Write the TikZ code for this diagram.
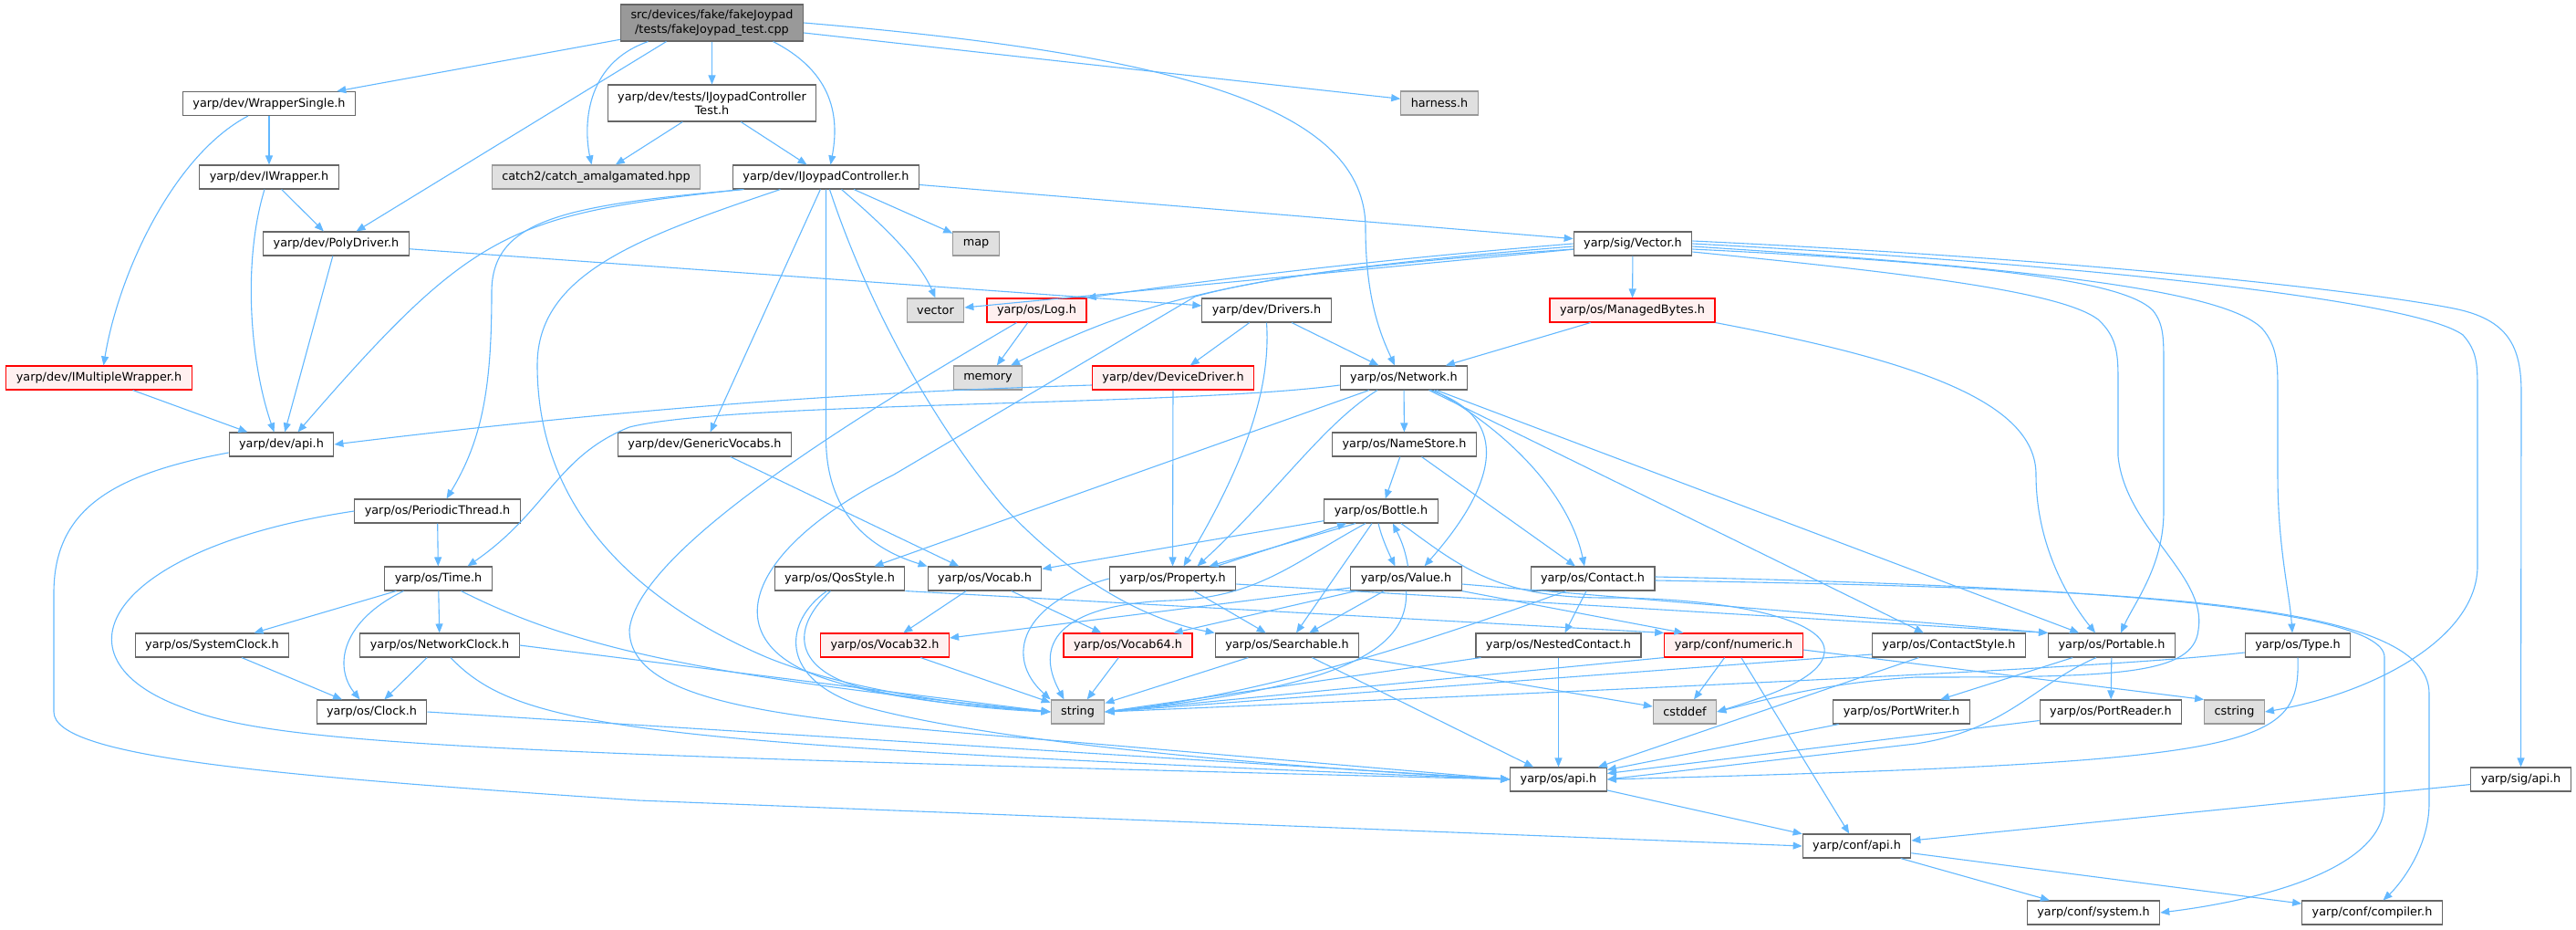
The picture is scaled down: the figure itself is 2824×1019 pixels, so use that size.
\documentclass[tikz,border=0pt]{standalone}
\usepackage{fontspec}
\setmainfont{DejaVu Sans}
\usetikzlibrary{arrows.meta}
\definecolor{edgeblue}{HTML}{63B8FF}
\definecolor{boxgray}{HTML}{666666}
\definecolor{sysfill}{HTML}{E0E0E0}
\definecolor{sysdraw}{HTML}{999999}
\definecolor{redfill}{HTML}{FFF0F0}
\definecolor{rootfill}{HTML}{999999}

\begin{document}
\begin{tikzpicture}[x=1pt, y=-1pt, box/.style={rectangle, draw=boxgray, fill=white, line width=1.1pt, minimum height=26pt, inner xsep=11pt, inner ysep=2pt, align=center, font=\fontsize{12.8pt}{15.5pt}\selectfont}, sysbox/.style={box, draw=sysdraw, fill=sysfill}, redbox/.style={box, draw=red, fill=redfill}, rootbox/.style={box, fill=rootfill, minimum height=40pt}, arrow/.style={-{Triangle[length=10pt,width=8pt]}, draw=edgeblue, line width=1.1pt}]
        \useasboundingbox (0,0) rectangle (2824,1019);
        \node[rootbox] (root) at (780.5,25) {src/devices/fake/fakeJoypad\\/tests/fakeJoypad\_test.cpp};
        \node[box] (wsingle) at (295,113.5) {yarp/dev/WrapperSingle.h};
        \node[box, minimum height=40pt] (ijctest) at (780.5,113) {yarp/dev/tests/IJoypadController\\Test.h};
        \node[sysbox] (harness) at (1578,113) {harness.h};
        \node[sysbox] (catch) at (653.5,194) {catch2/catch\_amalgamated.hpp};
        \node[box] (iwrapper) at (295,194) {yarp/dev/IWrapper.h};
        \node[box] (ijc) at (905.5,194) {yarp/dev/IJoypadController.h};
        \node[box] (polydrv) at (368.5,267) {yarp/dev/PolyDriver.h};
        \node[sysbox] (map) at (1070,267) {map};
        \node[box] (vecsig) at (1790,267) {yarp/sig/Vector.h};
        \node[sysbox] (vectorstd) at (1025.5,340) {vector};
        \node[redbox] (log) at (1136.5,340) {yarp/os/Log.h};
        \node[box] (drivers) at (1388.5,340) {yarp/dev/Drivers.h};
        \node[redbox] (managed) at (1789.5,340) {yarp/os/ManagedBytes.h};
        \node[redbox] (imulti) at (108.5,414) {yarp/dev/IMultipleWrapper.h};
        \node[sysbox] (memory) at (1083,414) {memory};
        \node[redbox] (devdrv) at (1286,414) {yarp/dev/DeviceDriver.h};
        \node[box] (network) at (1539,414) {yarp/os/Network.h};
        \node[box] (devapi) at (308.5,487) {yarp/dev/api.h};
        \node[box] (genvoc) at (772.5,487) {yarp/dev/GenericVocabs.h};
        \node[box] (namestore) at (1539.5,487) {yarp/os/NameStore.h};
        \node[box] (periodic) at (479.5,560) {yarp/os/PeriodicThread.h};
        \node[box] (bottle) at (1514,560) {yarp/os/Bottle.h};
        \node[box] (time) at (480.5,634) {yarp/os/Time.h};
        \node[box] (qos) at (920.5,634) {yarp/os/QosStyle.h};
        \node[box] (vocab) at (1079.5,634) {yarp/os/Vocab.h};
        \node[box] (property) at (1285.5,634) {yarp/os/Property.h};
        \node[box] (value) at (1541.5,634) {yarp/os/Value.h};
        \node[box] (contact) at (1746,634) {yarp/os/Contact.h};
        \node[box] (sysclock) at (232.5,707) {yarp/os/SystemClock.h};
        \node[box] (netclock) at (482,707) {yarp/os/NetworkClock.h};
        \node[redbox] (vocab32) at (970,707) {yarp/os/Vocab32.h};
        \node[redbox] (vocab64) at (1236.5,707) {yarp/os/Vocab64.h};
        \node[box] (searchable) at (1411,707) {yarp/os/Searchable.h};
        \node[box] (nested) at (1708.5,707) {yarp/os/NestedContact.h};
        \node[redbox] (numeric) at (1900.5,707) {yarp/conf/numeric.h};
        \node[box] (cstyle) at (2136.5,707) {yarp/os/ContactStyle.h};
        \node[box] (portable) at (2315,707) {yarp/os/Portable.h};
        \node[box] (type) at (2519,707) {yarp/os/Type.h};
        \node[box] (clock) at (407.5,780) {yarp/os/Clock.h};
        \node[sysbox] (string) at (1181.5,780) {string};
        \node[sysbox] (cstddef) at (1847,780) {cstddef};
        \node[box] (portwriter) at (2084.5,780) {yarp/os/PortWriter.h};
        \node[box] (portreader) at (2314,780) {yarp/os/PortReader.h};
        \node[sysbox] (cstring) at (2449.5,780) {cstring};
        \node[box] (osapi) at (1708.5,854) {yarp/os/api.h};
        \node[box] (sigapi) at (2763.5,854) {yarp/sig/api.h};
        \node[box] (confapi) at (2035.5,927) {yarp/conf/api.h};
        \node[box] (sysh) at (2295,1000) {yarp/conf/system.h};
        \node[box] (compiler) at (2600.5,1000) {yarp/conf/compiler.h};
        \draw[arrow] (root) -- (wsingle);
        \draw[arrow] ([xshift=-50pt]root.south) -- ([xshift=22pt]polydrv.north);
        \draw[arrow] ([xshift=-70pt]root.south) .. controls (640,70) and (640,140) .. ([xshift=-5pt]catch.north);
        \draw[arrow] (root) -- (ijctest);
        \draw[arrow] ([xshift=67pt]root.south) .. controls (915,80) and (920,130) .. ([xshift=5pt]ijc.north);
        \draw[arrow] (root) -- (harness);
        \draw[arrow] (root.east) .. controls (1300,60) and (1497,120) .. (1497,250) .. controls (1497,330) and (1515,370) .. ([xshift=-10pt]network.north);
        \draw[arrow] (wsingle) -- (iwrapper);
        \draw[arrow] ([xshift=-23pt]wsingle.south) .. controls (190,170) and (130,300) .. ([xshift=5pt]imulti.north);
        \draw[arrow] (ijctest) -- (catch);
        \draw[arrow] (ijctest) -- (ijc);
        \draw[arrow] (iwrapper) -- (polydrv);
        \draw[arrow] ([xshift=-5pt]iwrapper.south) .. controls (265,290) and (275,400) .. ([xshift=-8pt]devapi.north);
        \draw[arrow] (polydrv) -- (devapi);
        \draw[arrow] (polydrv) -- (drivers);
        \draw[arrow] (imulti) -- (devapi);
        \draw[arrow] ([yshift=-9pt]devapi.west) .. controls (120,520) and (59,560) .. (59,650) -- (59,780) .. controls (59,830) and (300,850) .. (700,877) -- (confapi.west);
        \draw[arrow] (ijc) -- (map);
        \draw[arrow] ([xshift=17pt]ijc.south) .. controls (960,240) and (1005,280) .. (vectorstd.north);
        \draw[arrow] (ijc) -- (vecsig);
        \draw[arrow] ([xshift=-92pt]ijc.south) .. controls (560,235) and (520,250) .. ([xshift=18pt]devapi.north);
        \draw[arrow] ([xshift=-90pt]ijc.south) .. controls (620,225) and (539,240) .. (539,320) .. controls (539,420) and (530,480) .. ([xshift=10pt]periodic.north);
        \draw[arrow] (ijc) -- (genvoc);
        \draw[arrow] (ijc.south) -- (905.5,480) .. controls (905.5,560) and (950,600) .. (vocab.north west);
        \draw[arrow] ([xshift=4pt]ijc.south) .. controls (950,330) and (1020,460) .. (1100,555) .. controls (1180,640) and (1260,680) .. (searchable.north west);
        \draw[arrow] ([xshift=-50pt]ijc.south) .. controls (700,260) and (589,300) .. (589,400) .. controls (589,560) and (700,660) .. (840,720) .. controls (950,765) and (1100,775) .. (string.west);
        \draw[arrow] (genvoc) -- (vocab);
        \draw[arrow] (drivers) -- (devdrv);
        \draw[arrow] (drivers) -- (network);
        \draw[arrow] (drivers.south) .. controls (1393,420) and (1370,500) .. ([xshift=12pt]property.north);
        \draw[arrow] (devdrv) -- (property);
        \draw[arrow] ([yshift=-8pt]devdrv.west) .. controls (1000,428) and (750,440) .. (devapi.east);
        \draw[arrow] ([yshift=-8pt]network.west) .. controls (1300,445) and (800,440) .. (690,468) .. controls (610,500) and (600,560) .. ([xshift=32pt]time.north);
        \draw[arrow] (network) -- (namestore);
        \draw[arrow] (network) -- (qos);
        \draw[arrow] ([xshift=-29pt]network.south) .. controls (1450,465) and (1400,540) .. ([xshift=27pt]property.north);
        \draw[arrow] ([xshift=29pt]network.south) .. controls (1650,455) and (1650,520) .. ([xshift=20pt]value.north);
        \draw[arrow] ([xshift=33pt]network.south) .. controls (1650,470) and (1720,540) .. ([xshift=-9pt]contact.north);
        \draw[arrow] (network) -- (cstyle);
        \draw[arrow] (network) -- (portable);
        \draw[arrow] (namestore) -- (bottle);
        \draw[arrow] (namestore) -- (contact);
        \draw[arrow] (managed) -- (network);
        \draw[arrow] (managed.south east) .. controls (2100,395) and (2232,440) .. (2232,520) .. controls (2232,600) and (2270,660) .. ([xshift=-18pt]portable.north);
        \draw[arrow] (vecsig) -- (managed);
        \draw[arrow] (vecsig) -- (vectorstd);
        \draw[arrow] (vecsig.west) .. controls (1500,285) and (1300,310) .. (log.north east);
        \draw[arrow] ([yshift=-3pt]vecsig.west) .. controls (1350,300) and (1250,330) .. ([xshift=25pt]memory.north);
        \draw[arrow] ([yshift=-6pt]vecsig.west) .. controls (1550,285) and (1400,300) .. (1310,325) -- (980,520) .. controls (820,600) and (780,700) .. (900,742) .. controls (980,770) and (1100,776) .. (string.west);
        \draw[arrow] ([yshift=3pt]vecsig.east) .. controls (2300,285) and (2600,320) .. (2690,338) .. controls (2750,350) and (2764,380) .. (2764,430) -- (sigapi.north);
        \draw[arrow] (vecsig.east) .. controls (2300,290) and (2650,330) .. (2700,367) .. controls (2716,385) and (2716,400) .. (2716,430) -- (2716,620) .. controls (2716,700) and (2600,760) .. (cstring.east);
        \draw[arrow] ([yshift=-3pt]vecsig.east) .. controls (2250,295) and (2440,320) .. (2480,360) .. controls (2497,380) and (2497,400) .. (2497,430) -- (2497,520) .. controls (2497,600) and (2510,650) .. ([xshift=-6pt]type.north);
        \draw[arrow] ([yshift=-6pt]vecsig.east) .. controls (2200,290) and (2330,310) .. (2360,340) .. controls (2372,355) and (2372,370) .. (2372,400) -- (2372,560) .. controls (2372,620) and (2340,660) .. ([xshift=10pt]portable.north);
        \draw[arrow] ([yshift=-9pt]vecsig.east) .. controls (2100,300) and (2260,320) .. (2300,350) .. controls (2322,370) and (2322,390) .. (2322,420) -- (2322,500) .. controls (2330,580) and (2420,630) .. (2410,690) .. controls (2405,740) and (2320,742) .. (2100,742) .. controls (2000,748) and (1930,768) .. (cstddef.east);
        \draw[arrow] (log) -- (memory);
        \draw[arrow] ([xshift=-22pt]log.south) .. controls (950,450) and (700,600) .. (690,690) .. controls (690,780) and (900,790) .. (1200,815) -- (osapi.west);
        \draw[arrow] (periodic) -- (time);
        \draw[arrow] (periodic.west) .. controls (120,600) and (50,720) .. (200,775) .. controls (300,815) and (500,825) .. (osapi.west);
        \draw[arrow] (time) -- (sysclock);
        \draw[arrow] (time) -- (netclock);
        \draw[arrow] ([xshift=-38pt]time.south) .. controls (375,680) and (365,730) .. ([xshift=-13pt]clock.north);
        \draw[arrow] ([xshift=25pt]time.south) .. controls (620,705) and (750,740) .. (string.west);
        \draw[arrow] (sysclock) -- (clock);
        \draw[arrow] (netclock) -- (clock);
        \draw[arrow] (netclock.east) -- (string.west);
        \draw[arrow] ([xshift=12pt]netclock.south) .. controls (570,800) and (700,815) .. (osapi.west);
        \draw[arrow] (clock.east) -- (osapi.west);
        \draw[arrow] ([xshift=-10pt]qos.south) .. controls (865,690) and (870,735) .. (950,755) .. controls (1030,772) and (1100,778) .. (string.west);
        \draw[arrow] ([xshift=-14pt]qos.south) .. controls (860,680) and (850,745) .. (950,775) .. controls (1100,815) and (1400,840) .. (osapi.west);
        \draw[arrow] (qos.south east) -- (numeric.north west);
        \draw[arrow] (vocab) -- (vocab32);
        \draw[arrow] (vocab) -- (vocab64);
        \draw[arrow] (vocab32) -- (string);
        \draw[arrow] (vocab64) -- (string);
        \draw[arrow] ([xshift=48pt]property.north) -- ([xshift=-38pt]bottle.south);
        \draw[arrow] (property) -- (searchable);
        \draw[arrow] (property.west) .. controls (1120,660) and (1100,720) .. (string.north west);
        \draw[arrow] ([yshift=-6pt]property.east) -- (portable.north west);
        \draw[arrow] (bottle) -- (vocab);
        \draw[arrow] ([xshift=-28pt]bottle.south) -- ([xshift=40pt]property.north);
        \draw[arrow] ([xshift=-3pt]bottle.south) .. controls (1515,590) and (1522,605) .. ([xshift=-12pt]value.north);
        \draw[arrow] ([xshift=-10pt]bottle.south) -- ([xshift=10pt]searchable.north);
        \draw[arrow] ([xshift=-17pt]bottle.south) .. controls (1420,615) and (1380,655) .. (1283,658) .. controls (1170,662) and (1130,700) .. ([xshift=-15pt]string.north);
        \draw[arrow] ([xshift=22pt]bottle.south) .. controls (1600,620) and (1640,655) .. (1760,655) .. controls (1900,655) and (2005,680) .. (2000,715) .. controls (1997,745) and (1930,765) .. (cstddef.east);
        \draw[arrow] ([xshift=2pt]value.north) .. controls (1540,600) and (1535,590) .. ([xshift=13pt]bottle.south);
        \draw[arrow] (value) -- (searchable);
        \draw[arrow] (value.south) .. controls (1545,720) and (1450,755) .. (string.east);
        \draw[arrow] ([yshift=-10pt]value.west) -- ([yshift=8pt]vocab32.east);
        \draw[arrow] ([xshift=-55pt]value.south) -- ([xshift=50pt]vocab64.north);
        \draw[arrow] (value.south east) -- ([xshift=-55pt]numeric.north);
        \draw[arrow] ([yshift=-6pt]value.east) -- (portable.north west);
        \draw[arrow] (searchable) -- (string);
        \draw[arrow] (searchable) -- (cstddef);
        \draw[arrow] (searchable) -- (osapi);
        \draw[arrow] (contact) -- (nested);
        \draw[arrow] ([xshift=-29pt]contact.south) .. controls (1600,690) and (1400,760) .. (string.east);
        \draw[arrow] ([yshift=2pt]contact.east) .. controls (2200,640) and (2614,660) .. (2614,720) -- (2614,880) .. controls (2614,960) and (2450,990) .. (sysh.east);
        \draw[arrow] ([yshift=-2pt]contact.east) .. controls (2350,645) and (2663,660) .. (2663,760) -- (2663,880) .. controls (2663,930) and (2630,970) .. ([xshift=12pt]compiler.north);
        \draw[arrow] (nested) -- (osapi);
        \draw[arrow] ([xshift=-85pt]nested.south) -- (string.east);
        \draw[arrow] (numeric) -- (cstddef);
        \draw[arrow] (numeric) -- (confapi);
        \draw[arrow] (numeric.south west) -- (string.east);
        \draw[arrow] ([yshift=-5pt]numeric.east) -- (cstring.north west);
        \draw[arrow] ([yshift=-10pt]cstyle.west) -- (string.east);
        \draw[arrow] ([xshift=-33pt]cstyle.south) -- ([xshift=-10pt]osapi.north east);
        \draw[arrow] (portable) -- (portwriter);
        \draw[arrow] (portable) -- (portreader);
        \draw[arrow] ([xshift=-17pt]portable.south) .. controls (2230,750) and (2200,800) .. (2100,815) -- (osapi.east);
        \draw[arrow] (portwriter) -- (osapi);
        \draw[arrow] (portreader) -- (osapi);
        \draw[arrow] ([yshift=-8pt]type.west) .. controls (2380,724) and (2200,738) .. (string.east);
        \draw[arrow] (type.south) .. controls (2522,820) and (2480,835) .. (osapi.east);
        \draw[arrow] (osapi) -- (confapi);
        \draw[arrow] (sigapi) -- (confapi);
        \draw[arrow] (confapi) -- (sysh);
        \draw[arrow] (confapi) -- (compiler);
      \end{tikzpicture}
\end{document}
